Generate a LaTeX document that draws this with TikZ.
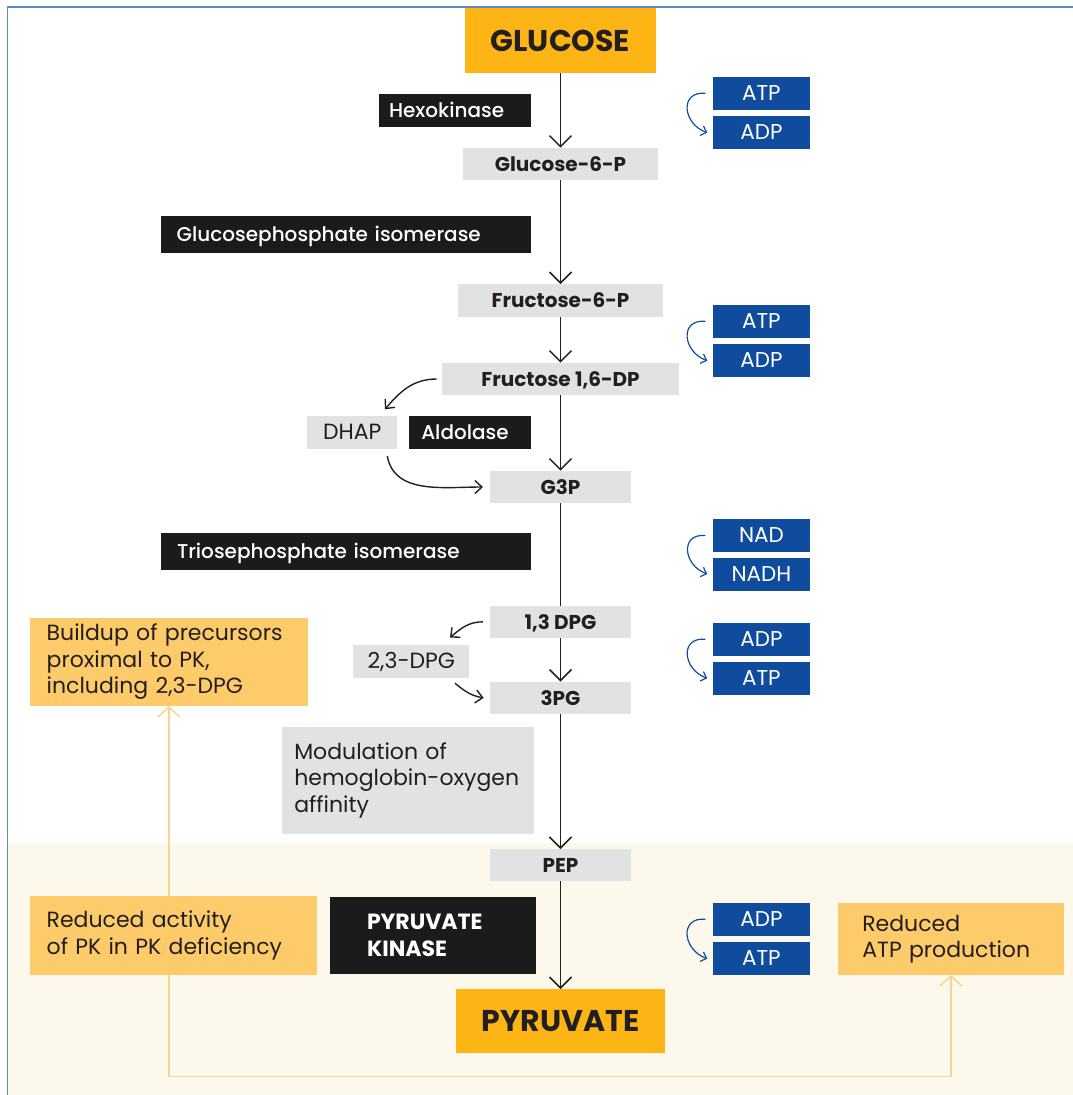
\documentclass[tikz,border=0pt]{standalone}
\usepackage{fontspec}
\setmainfont{Poppins}
\newfontfamily\pkmedium{Poppins Medium}
\usetikzlibrary{arrows.meta}
\definecolor{pkorange}{HTML}{FDB515}
\definecolor{pkyellow}{HTML}{FDCB6A}
\definecolor{pkgray}{HTML}{E1E2E4}
\definecolor{pkblack}{HTML}{1C1B1C}
\definecolor{pkblue}{HTML}{0F4C9E}
\definecolor{pkcream}{HTML}{FCF8EC}
\definecolor{pkink}{HTML}{231F20}
\definecolor{pkline}{HTML}{F6D68A}
\definecolor{pkframe}{HTML}{5B88CF}
\newcommand{\pkfs}[2]{\fontsize{#1pt}{#2pt}\selectfont}

\begin{document}
\begin{tikzpicture}[x=1pt,y=-1pt,line join=bevel,
  every node/.style={inner sep=0pt,outer sep=0pt},
  oneline/.style={text height=14.5pt,text depth=0pt},
  sugar/.style={fill=pkorange,text=pkink,font=\pkfs{30}{34}\bfseries,text height=21pt,text depth=0pt},
  metab/.style={fill=pkgray,text=pkink,font=\pkfs{20}{24}\bfseries,minimum height=32.7pt,oneline},
  side/.style={fill=pkgray,text=pkink,font=\pkfs{22}{26},minimum height=33pt,oneline},
  enz/.style={fill=pkblack,text=white,anchor=north west,align=left,font=\pkfs{20}{24}\pkmedium},
  note/.style={fill=pkyellow,text=pkink,anchor=north west,align=left,font=\pkfs{22}{26.5}},
  cof/.style={fill=pkblue,text=white,minimum width=96.2pt,minimum height=33pt,font=\pkfs{21.5}{25},oneline},
  main/.style={draw=pkink,line width=1.5pt,-{Straight Barb[length=11pt,width=22pt]}},
  sidearr/.style={draw=pkink,line width=1.4pt,-{Straight Barb[length=7pt,width=13pt]}},
  cofarr/.style={draw=pkblue,line width=1.2pt,-{Straight Barb[length=5pt,width=10pt]}},
  yarr/.style={draw=pkline,line width=1.5pt,-{Straight Barb[length=10pt,width=22pt]}}]
  \path[use as bounding box] (0,0) rectangle (1073,1095);  % 源图 1073×1095px，1px = 1pt
  % ---- 底色与外框 ----
  \fill[pkcream] (8,843) rectangle (1073,1095);             % 下部米色区，px y=843 起
  \draw[pkframe,line width=1.5pt] (7.3,1095) |- (1073,7);    % 左、上两条蓝边
  % ---- 主干：糖与中间产物（中心 x=560.5）----
  \node[sugar,minimum width=191pt,minimum height=65pt]   (glucose)  at (560.5,40.5)  {GLUCOSE};
  \node[metab,minimum width=195.3pt]                     (g6p)      at (560.5,164)   {Glucose-6-P};
  \node[metab,minimum width=204.7pt]                     (f6p)      at (560.5,300.4) {Fructose-6-P};
  \node[metab,minimum width=236.4pt]                     (f16p)     at (560.5,379)   {Fructose 1,6-DP};
  \node[metab,minimum width=141.7pt]                     (g3p)      at (560.5,487)   {G3P};
  \node[metab,minimum width=141.7pt,minimum height=32pt] (dpg13)    at (560.5,621.8) {1,3 DPG};
  \node[metab,minimum width=141.7pt]                     (pg3)      at (560.5,697.9) {3PG};
  \node[metab,minimum width=141.7pt,minimum height=32pt] (pep)      at (560.5,865)   {PEP};
  \node[sugar,minimum width=209pt,minimum height=64.3pt] (pyruvate) at (560.5,1021.2) {PYRUVATE};
  % ---- 旁支 ----
  \node[side,minimum width=90pt]  (dhap)  at (352.3,432.5) {DHAP};
  \node[side,minimum width=116pt] (dpg23) at (411.3,661.7) {2,3-DPG};
  % ---- 酶（黑底，左对齐；左上角定位）----
  \node[enz,oneline,inner xsep=10pt,text width=132pt,minimum height=33pt]   (hexo) at (379,94)     {Hexokinase};
  \node[enz,oneline,inner xsep=16pt,text width=338.3pt,minimum height=37.6pt] (gpi) at (160.7,215.7) {Glucosephosphate isomerase};
  \node[enz,oneline,inner xsep=12pt,text width=97.7pt,minimum height=33pt]  (aldo) at (409.3,416)  {Aldolase};
  \node[enz,oneline,inner xsep=16pt,text width=338pt,minimum height=37pt]   (tpi)  at (161,533)    {Triosephosphate isomerase};
  \node[enz,font=\pkfs{22}{26.3}\bfseries,inner xsep=37pt,text width=132pt,minimum height=77.3pt] (pk) at (330,896.7) {PYRUVATE\\KINASE};
  % ---- 说明框 ----
  \node[note,fill=pkgray,inner xsep=12pt,text width=227.7pt,minimum height=107.3pt] (modul) at (282.3,726.7)
    {Modulation of\\hemoglobin-oxygen\\affinity};
  \node[note,inner xsep=16.7pt,text width=244.3pt,minimum height=88pt] (buildup) at (30,618)
    {Buildup of precursors\\proximal to PK,\\including 2,3-DPG};
  \node[note,inner xsep=16.7pt,text width=254pt,minimum height=79pt]   (redact)  at (30,896)
    {Reduced activity\\of PK in PK deficiency};
  \node[note,inner xsep=24pt,text width=177.2pt,minimum height=71.7pt] (redatp)  at (838.3,903.3)
    {Reduced\\ATP production};
  % ---- 辅因子（蓝底成对，x 中心 761.4）----
  \foreach \nm/\txt/\yy in {atpa/ATP/93.3, adpa/ADP/132.7, atpb/ATP/321.3, adpb/ADP/360.7,
      nad/NAD/535.5, nadh/NADH/574, adpc/ADP/639.2, atpc/ATP/678.3, adpd/ADP/919.2, atpd/ATP/958.7}
    \node[cof] (\nm) at (761.4,\yy) {\txt};
  \foreach \a/\b in {atpa/adpa, atpb/adpb, nad/nadh, adpc/atpc, adpd/atpd}
    \draw[cofarr] ([xshift=-8pt]\a.west) to[out=175,in=160,looseness=1.7] ([xshift=-6pt]\b.west);
  % ---- 主干箭头；G3P→1,3 DPG 无箭头 ----
  \foreach \a/\b in {glucose/g6p, g6p/f6p, f6p/f16p, f16p/g3p, dpg13/pg3, pg3/pep, pep/pyruvate}
    \draw[main] (\a) -- (\b);
  \draw[draw=pkink,line width=1.5pt] (g3p) -- (dpg13);
  % ---- 旁支弯箭头 ----
  \draw[sidearr] ([xshift=-5.6pt]f16p.west) to[out=180,in=50] ([xshift=-12.3pt,yshift=6.7pt]dhap.north east);
  \draw[sidearr] ([xshift=-10pt,yshift=-7pt]dhap.south east) to[out=-80,in=180] ([xshift=-6.7pt]g3p.west);
  \draw[sidearr] ([xshift=-6.7pt]dpg13.west) to[out=180,in=40] ([xshift=-19.3pt,yshift=7.7pt]dpg23.north east);
  \draw[sidearr] ([xshift=-14.3pt,yshift=-5pt]dpg23.south east) to[out=-40,in=170] ([xshift=-6pt]pg3.west);
  % ---- 黄线：PK 活性下降 → 前体堆积 / ATP 减少 ----
  \coordinate (ybase) at (0,1076.7);
  \draw[yarr] (redact.north -| buildup.south) -- (buildup.south);
  \draw[yarr] (redact.south -| buildup.south) |- (ybase -| redatp.south) -- (redatp.south);
\end{tikzpicture}
\end{document}
